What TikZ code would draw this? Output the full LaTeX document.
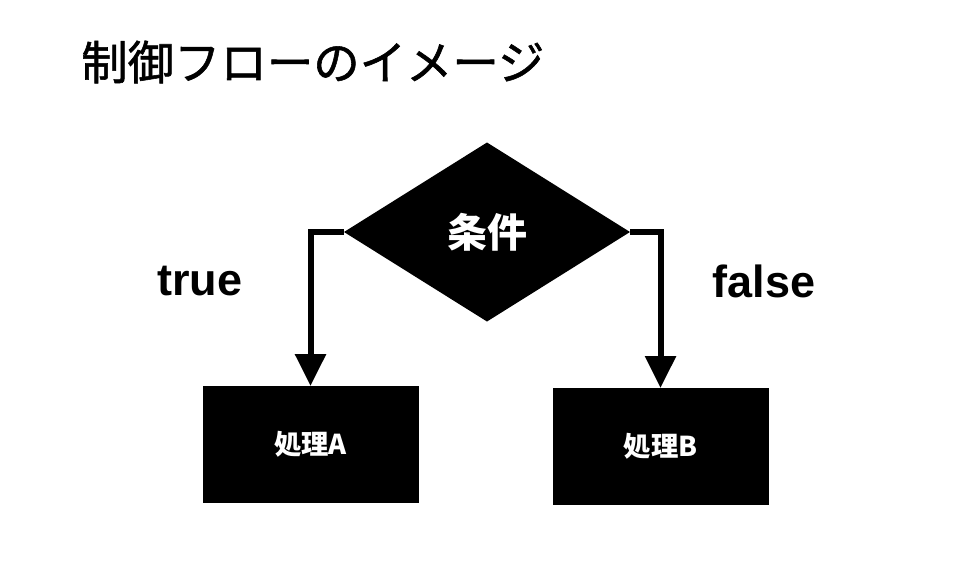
\documentclass[tikz,border=0pt]{standalone}
\usepackage{fontspec}
\setmainfont{Liberation Sans}
\newfontfamily\jpfont{Noto Sans CJK JP}
\newfontfamily\jptitle[FakeBold=1.2]{Noto Sans CJK JP}
\usetikzlibrary{shapes.geometric,arrows.meta}
\tikzset{
  px/.style={x=0.75pt,y=-0.75pt},
  flow/.style={line width=4.5pt,line join=miter,-{Triangle[width=22.5pt,length=24pt]}},
  procbox/.style={rectangle,fill=black,draw=black,line width=0.6pt,minimum width=161.25pt,minimum height=87pt,inner sep=0pt,outer sep=0pt,text=white,font=\jpfont\bfseries\fontsize{20.5}{24}\selectfont},
  decision/.style={diamond,fill=black,inner sep=0pt,outer sep=0pt,minimum width=214.5pt,minimum height=134.25pt,text=white,font=\jpfont\bfseries\fontsize{30}{34}\selectfont},
  lbl/.style={font=\bfseries\fontsize{33.75}{38}\selectfont,inner sep=0pt}
}
\begin{document}
\begin{tikzpicture}[px]
\useasboundingbox (0,0) rectangle (980,572);
\node[anchor=west,inner sep=0pt,font=\jptitle\fontsize{34.8}{40}\selectfont] (title) at (81,62) {制御フローのイメージ};
\node[decision] (cond) at (487,232) {条件};
\node[procbox] (pa) at (310.5,444) {処理A};
\node[procbox] (pb) at (660.5,446) {処理B};
\node[lbl] (t) at (200,281) {true};
\node[lbl] (f) at (764,281) {false};
\draw[flow] (cond.west) -- (cond.west -| pa.north) -- (pa.north);
\draw[flow] (cond.east) -- (cond.east -| pb.north) -- (pb.north);
\end{tikzpicture}
\end{document}
